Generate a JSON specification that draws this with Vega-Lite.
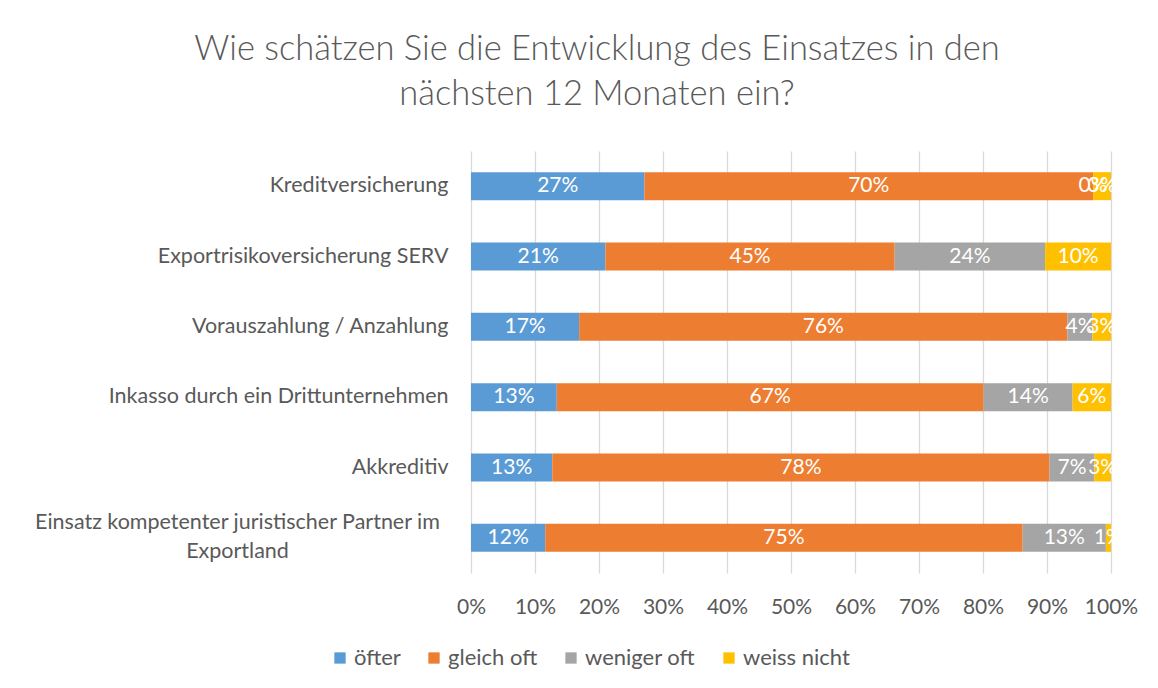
{
  "$schema": "https://vega.github.io/schema/vega-lite/v6.json",
  "width": 640,
  "height": 422,
  "autosize": {"type": "none"},
  "padding": {"left": 471, "top": 151, "right": 47, "bottom": 115},
  "background": "white",
  "title": {
    "text": ["Wie schätzen Sie die Entwicklung des Einsatzes in den", "nächsten 12 Monaten ein?"],
    "font": "Lato",
    "fontSize": 34.5,
    "fontWeight": 300,
    "color": "#595959",
    "anchor": "middle",
    "frame": "group",
    "dx": -194,
    "offset": 39,
    "lineHeight": 45
  },
  "config": {
    "font": "Lato",
    "view": {"stroke": null},
    "axis": {"labelFont": "Lato", "labelColor": "#595959"}
  },
  "data": {
    "values": [
      {"category": "Kreditversicherung", "answer": "öfter", "idx": 1, "value": 0.271},
      {"category": "Kreditversicherung", "answer": "gleich oft", "idx": 2, "value": 0.701},
      {"category": "Kreditversicherung", "answer": "weniger oft", "idx": 3, "value": 0.0},
      {"category": "Kreditversicherung", "answer": "weiss nicht", "idx": 4, "value": 0.028},
      {"category": "Exportrisikoversicherung SERV", "answer": "öfter", "idx": 1, "value": 0.21},
      {"category": "Exportrisikoversicherung SERV", "answer": "gleich oft", "idx": 2, "value": 0.452},
      {"category": "Exportrisikoversicherung SERV", "answer": "weniger oft", "idx": 3, "value": 0.235},
      {"category": "Exportrisikoversicherung SERV", "answer": "weiss nicht", "idx": 4, "value": 0.103},
      {"category": "Vorauszahlung / Anzahlung", "answer": "öfter", "idx": 1, "value": 0.169},
      {"category": "Vorauszahlung / Anzahlung", "answer": "gleich oft", "idx": 2, "value": 0.763},
      {"category": "Vorauszahlung / Anzahlung", "answer": "weniger oft", "idx": 3, "value": 0.039},
      {"category": "Vorauszahlung / Anzahlung", "answer": "weiss nicht", "idx": 4, "value": 0.029},
      {"category": "Inkasso durch ein Drittunternehmen\u00a0", "answer": "öfter", "idx": 1, "value": 0.134},
      {"category": "Inkasso durch ein Drittunternehmen\u00a0", "answer": "gleich oft", "idx": 2, "value": 0.667},
      {"category": "Inkasso durch ein Drittunternehmen\u00a0", "answer": "weniger oft", "idx": 3, "value": 0.139},
      {"category": "Inkasso durch ein Drittunternehmen\u00a0", "answer": "weiss nicht", "idx": 4, "value": 0.06},
      {"category": "Akkreditiv", "answer": "öfter", "idx": 1, "value": 0.127},
      {"category": "Akkreditiv", "answer": "gleich oft", "idx": 2, "value": 0.777},
      {"category": "Akkreditiv", "answer": "weniger oft", "idx": 3, "value": 0.07},
      {"category": "Akkreditiv", "answer": "weiss nicht", "idx": 4, "value": 0.026},
      {"category": "Einsatz kompetenter juristischer Partner im Exportland", "answer": "öfter", "idx": 1, "value": 0.116},
      {"category": "Einsatz kompetenter juristischer Partner im Exportland", "answer": "gleich oft", "idx": 2, "value": 0.746},
      {"category": "Einsatz kompetenter juristischer Partner im Exportland", "answer": "weniger oft", "idx": 3, "value": 0.13},
      {"category": "Einsatz kompetenter juristischer Partner im Exportland", "answer": "weiss nicht", "idx": 4, "value": 0.008}
    ]
  },
  "encoding": {
    "y": {
      "field": "category",
      "type": "nominal",
      "sort": null,
      "scale": {"paddingInner": 0.6, "paddingOuter": 0.3},
      "axis": {
        "title": null,
        "ticks": false,
        "domain": false,
        "labelFontSize": 21.5,
        "labelPadding": {"condition": {"test": "indexof(datum.value, 'Einsatz') == 0", "value": 234}, "value": 23},
        "labelAlign": {"condition": {"test": "indexof(datum.value, 'Einsatz') == 0", "value": "center"}, "value": "right"},
        "labelOffset": {"condition": {"test": "indexof(datum.value, 'Einsatz') == 0", "value": -15}, "value": 0},
        "labelLimit": 500,
        "labelLineHeight": 29,
        "labelExpr": "indexof(datum.value, 'Einsatz') == 0 ? ['Einsatz kompetenter juristischer Partner im', 'Exportland'] : datum.value"
      }
    },
    "order": {"field": "idx", "type": "quantitative"}
  },
  "layer": [
    {
      "mark": {"type": "bar", "size": 28},
      "encoding": {
        "x": {
          "field": "value",
          "type": "quantitative",
          "stack": "normalize",
          "scale": {"domain": [0, 1]},
          "axis": {
            "title": null,
            "format": ".0%",
            "values": [0, 0.1, 0.2, 0.3, 0.4, 0.5, 0.6, 0.7, 0.8, 0.9, 1],
            "grid": true,
            "gridColor": "#d9d9d9",
            "gridWidth": 1.3,
            "ticks": false,
            "domain": false,
            "labelFontSize": 21,
            "labelOverlap": false,
            "labelBound": false,
            "labelFlush": false,
            "labelPadding": 23
          }
        },
        "color": {
          "field": "answer",
          "type": "nominal",
          "sort": ["öfter", "gleich oft", "weniger oft", "weiss nicht"],
          "scale": {
            "domain": ["öfter", "gleich oft", "weniger oft", "weiss nicht"],
            "range": ["#5B9BD5", "#ED7D31", "#A5A5A5", "#FFC000"]
          },
          "legend": {
            "title": null,
            "orient": "none",
            "direction": "horizontal",
            "legendX": -142,
            "legendY": 496,
            "symbolType": "square",
            "symbolSize": 128,
            "symbolStrokeWidth": 0,
            "labelFont": "Lato",
            "labelFontSize": 22,
            "labelColor": "#595959",
            "labelOffset": 3,
            "columnPadding": 22
          }
        }
      }
    },
    {
      "mark": {"type": "text", "color": "white", "fontSize": 21, "font": "Lato"},
      "encoding": {
        "x": {"field": "value", "type": "quantitative", "stack": "normalize", "bandPosition": 0.5},
        "text": {"field": "value", "type": "quantitative", "format": ".0%"}
      }
    }
  ]
}
